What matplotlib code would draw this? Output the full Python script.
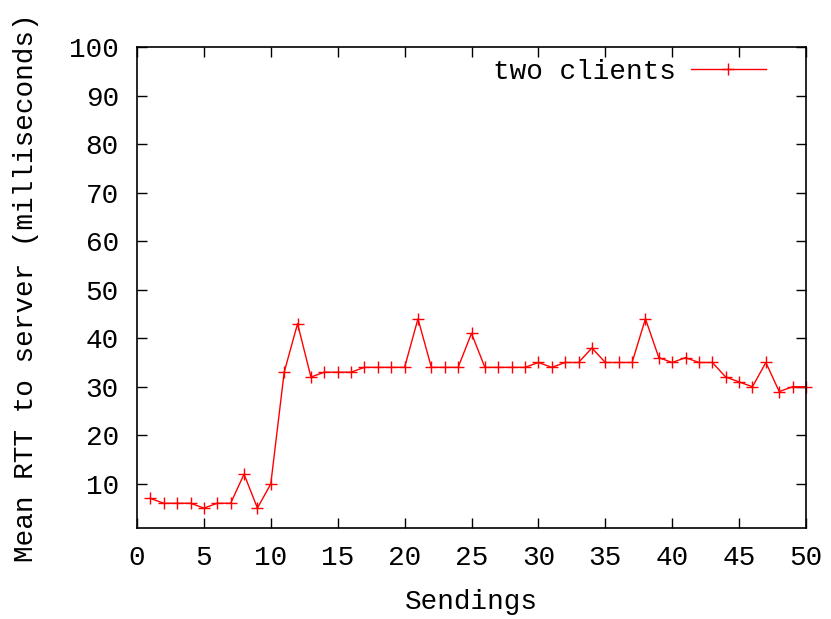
#! /usr/bin/env python
# -*- coding: utf-8 -*-

# Mean RTT to server per sending, gnuplot-like look

import matplotlib
matplotlib.use("Agg")
import matplotlib.pyplot as plt

sendings = list(range(1, 51))
rtt_ms = [7, 6, 6, 6, 5, 6, 6, 12, 5, 10,
          33, 43, 32, 33, 33, 33, 34, 34, 34, 34,
          44, 34, 34, 34, 41, 34, 34, 34, 34, 35,
          34, 35, 35, 38, 35, 35, 35, 44, 36, 35,
          36, 35, 35, 32, 31, 30, 35, 29, 30, 30]
series_label = "two clients"
xticks = list(range(0, 51, 5))
yticks = list(range(10, 101, 10))

plt.rcParams['font.family'] = ['Liberation Mono', 'DejaVu Sans Mono']
FS = 20

fig = plt.figure(figsize=(8.31, 6.19), dpi=100)
W, H = 831, 619
ax = fig.add_axes([137 / W, 1 - 528 / H, (806 - 137) / W, (528 - 47) / H])

ax.plot(sendings, rtt_ms, color='#ff0000', lw=1.0, marker='+',
        markersize=8, markeredgewidth=1.0, label=series_label, clip_on=False)

ax.set_xlim(0, 50)
ax.set_ylim(0.9, 100)
ax.set_xticks(xticks)
ax.set_yticks(yticks)
ax.tick_params(direction='in', top=True, right=True, length=7, width=1,
               labelsize=FS)
ax.tick_params(axis='x', pad=12)
ax.tick_params(axis='y', pad=13)
for s in ax.spines.values():
    s.set_linewidth(1.2)

ax.set_xlabel("Sendings", fontsize=FS, labelpad=13)
ax.set_ylabel("Mean RTT to server (milliseconds)", fontsize=FS, labelpad=22)

ax.legend(loc='upper right', frameon=False, markerfirst=False, fontsize=FS,
          handlelength=2.7, handletextpad=0.55, borderaxespad=0.2,
          bbox_to_anchor=(0.965, 1.01))

fig.savefig("out.png", dpi=100)
